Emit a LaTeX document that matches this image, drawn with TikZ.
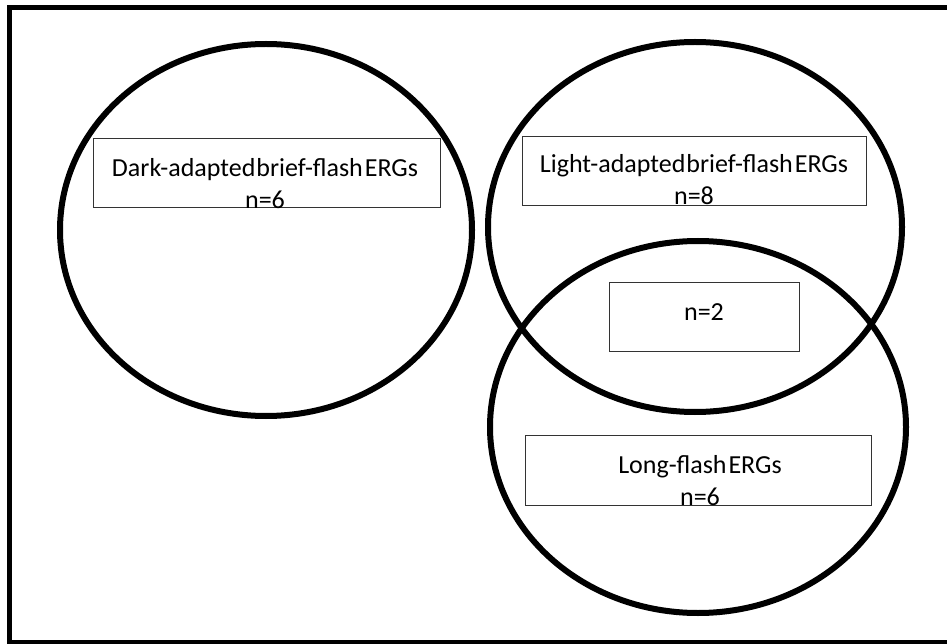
\documentclass[tikz,border=0pt]{standalone}
\usepackage{fontspec}
\setmainfont{Carlito}
\usetikzlibrary{positioning}

\begin{document}
\begin{tikzpicture}[x=1pt,y=-1pt,
  setline/.style={line width=6pt},
  countbox/.style={draw=black!80,line width=1pt,inner sep=0pt},
  lbl/.style={font=\fontsize{26}{31}\selectfont,anchor=base,inner sep=0pt}]
  \useasboundingbox (0,0) rectangle (947,644);
  % outer frame
  \draw[line width=5pt] (9.5,7.5) rectangle (965,642.5);
  % dark-adapted set
  \draw[setline] (266,230) ellipse [x radius=206,y radius=186];
  \node[countbox,minimum width=347pt,minimum height=69pt] (darkbox) at (266.5,173.5) {};
  \node[lbl] (darkname) at (265,177) {Dark-adapted\kern1pt brief-flash\kern2pt ERGs};
  \node[lbl] (darkn) at (265,209) {n=6};
  % light-adapted set
  \draw[setline] (695,227) ellipse [x radius=207,y radius=185];
  \node[countbox,minimum width=344pt,minimum height=69pt] (lightbox) at (694,171.5) {};
  \node[lbl] (lightname) at (694,173) {Light-adapted\kern1pt brief-flash\kern2pt ERGs};
  \node[lbl] (lightn) at (694,205) {n=8};
  % long-flash set
  \draw[setline] (698,427) ellipse [x radius=208,y radius=186];
  \node[countbox,minimum width=190pt,minimum height=69pt] (bothbox) at (704,316.5) {};
  \node[lbl] (bothn) at (704,320) {n=2};
  \node[countbox,minimum width=346pt,minimum height=70pt] (longbox) at (698,470) {};
  \node[lbl] (longname) at (700,473) {Long-flash\kern2pt ERGs};
  \node[lbl] (longn) at (700,505) {n=6};
\end{tikzpicture}
\end{document}
